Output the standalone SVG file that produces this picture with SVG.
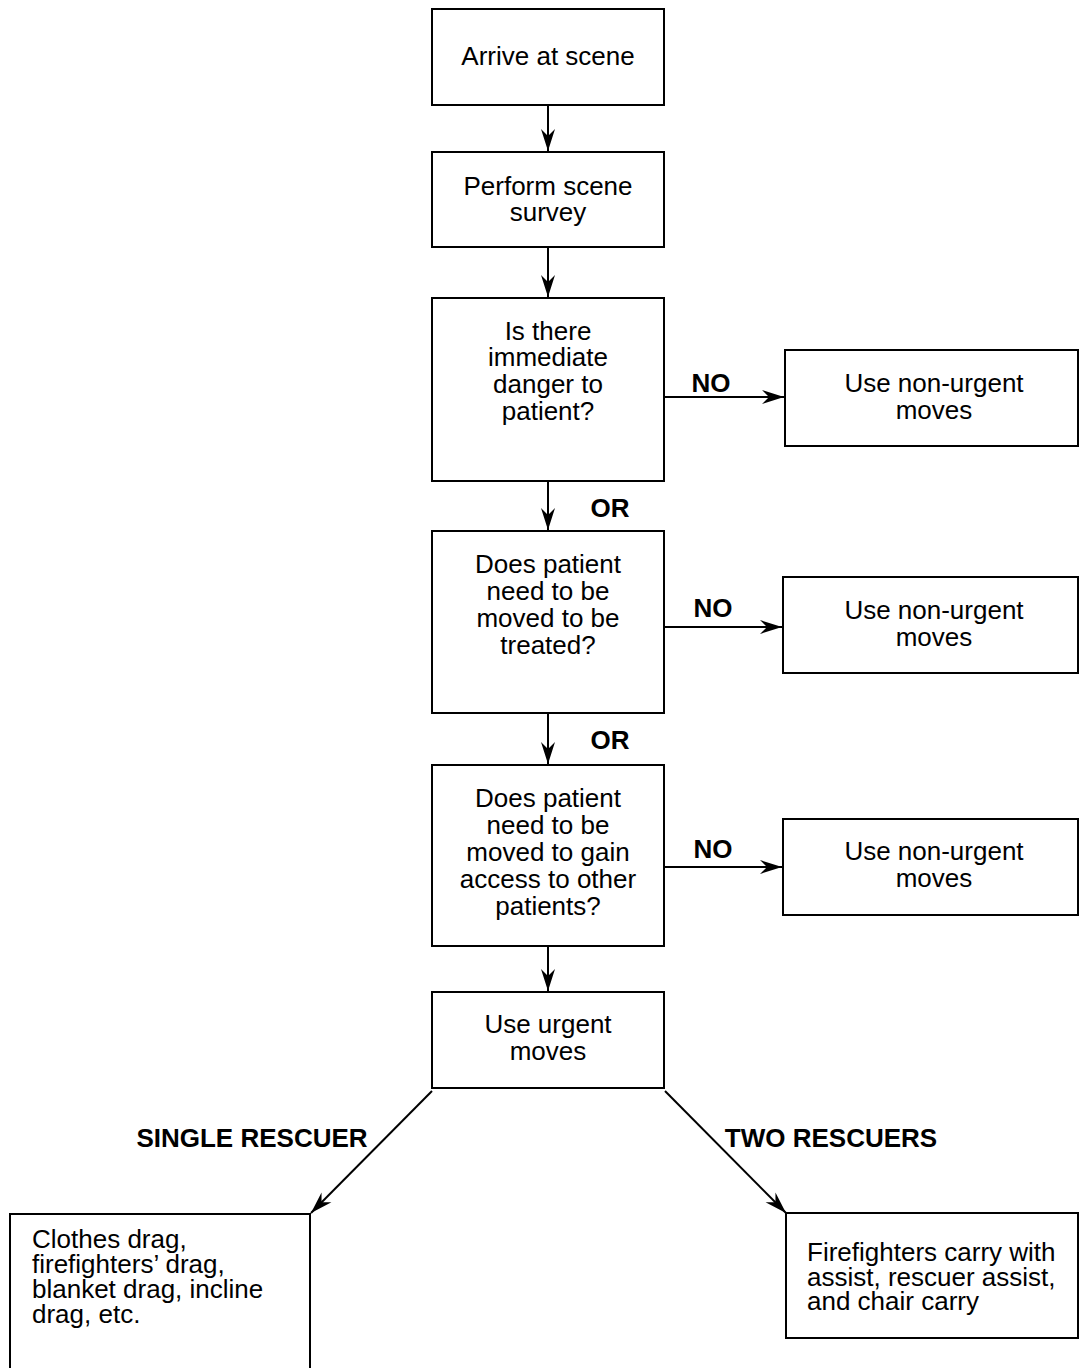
<svg xmlns="http://www.w3.org/2000/svg" width="1079" height="1368" viewBox="0 0 1079 1368">
<style>
.box{fill:#fff;stroke:#000;stroke-width:2}
.t{font-family:"Liberation Sans",Arial,sans-serif;font-size:26px;fill:#000}
.c{text-anchor:middle}
.b{font-weight:bold}
.ln{stroke:#000;stroke-width:2;fill:none}
</style>
<defs>
<marker id="ah" markerUnits="userSpaceOnUse" markerWidth="30" markerHeight="20" viewBox="-24 -10 26 20" refX="0" refY="0" orient="auto">
<path d="M0,0 L-22,-7 L-15,0 L-22,7 Z" fill="#000"/>
</marker>
</defs>
<rect width="1079" height="1368" fill="#fff"/>
<g id="connectors">
<line class="ln" x1="548" y1="105" x2="548" y2="151" marker-end="url(#ah)"/>
<line class="ln" x1="548" y1="247" x2="548" y2="297" marker-end="url(#ah)"/>
<line class="ln" x1="548" y1="481" x2="548" y2="530" marker-end="url(#ah)"/>
<line class="ln" x1="548" y1="713" x2="548" y2="764" marker-end="url(#ah)"/>
<line class="ln" x1="548" y1="946" x2="548" y2="991" marker-end="url(#ah)"/>
<line class="ln" x1="664" y1="397" x2="784" y2="397" marker-end="url(#ah)"/>
<line class="ln" x1="664" y1="627" x2="782" y2="627" marker-end="url(#ah)"/>
<line class="ln" x1="664" y1="867" x2="782" y2="867" marker-end="url(#ah)"/>
<line class="ln" x1="432" y1="1091" x2="311" y2="1213" marker-end="url(#ah)"/>
<line class="ln" x1="665" y1="1091" x2="786" y2="1213" marker-end="url(#ah)"/>
<text class="t b" x="711" y="392" text-anchor="middle">NO</text>
<text class="t b" x="713" y="617" text-anchor="middle">NO</text>
<text class="t b" x="713" y="858" text-anchor="middle">NO</text>
<text class="t b" x="610" y="517" text-anchor="middle">OR</text>
<text class="t b" x="610" y="749" text-anchor="middle">OR</text>
<text class="t b" x="252" y="1147" text-anchor="middle">SINGLE RESCUER</text>
<text class="t b" x="831" y="1147" text-anchor="middle">TWO RESCUERS</text>
</g>
<g id="arrive">
<rect class="box" x="432" y="9" width="232" height="96"/>
<text class="t c" x="548" y="65">Arrive at scene</text>
</g>
<g id="survey">
<rect class="box" x="432" y="152" width="232" height="95"/>
<text class="t c" x="548" y="195">Perform scene</text>
<text class="t c" x="548" y="221">survey</text>
</g>
<g id="danger">
<rect class="box" x="432" y="298" width="232" height="183"/>
<text class="t c" x="548" y="340">Is there</text>
<text class="t c" x="548" y="366">immediate</text>
<text class="t c" x="548" y="393">danger to</text>
<text class="t c" x="548" y="420">patient?</text>
</g>
<g id="nonurgent1">
<rect class="box" x="785" y="350" width="293" height="96"/>
<text class="t c" x="934" y="392">Use non-urgent</text>
<text class="t c" x="934" y="419">moves</text>
</g>
<g id="treated">
<rect class="box" x="432" y="531" width="232" height="182"/>
<text class="t c" x="548" y="573">Does patient</text>
<text class="t c" x="548" y="600">need to be</text>
<text class="t c" x="548" y="627">moved to be</text>
<text class="t c" x="548" y="654">treated?</text>
</g>
<g id="nonurgent2">
<rect class="box" x="783" y="577" width="295" height="96"/>
<text class="t c" x="934" y="619">Use non-urgent</text>
<text class="t c" x="934" y="646">moves</text>
</g>
<g id="access">
<rect class="box" x="432" y="765" width="232" height="181"/>
<text class="t c" x="548" y="807">Does patient</text>
<text class="t c" x="548" y="834">need to be</text>
<text class="t c" x="548" y="861">moved to gain</text>
<text class="t c" x="548" y="888">access to other</text>
<text class="t c" x="548" y="915">patients?</text>
</g>
<g id="nonurgent3">
<rect class="box" x="783" y="819" width="295" height="96"/>
<text class="t c" x="934" y="860">Use non-urgent</text>
<text class="t c" x="934" y="887">moves</text>
</g>
<g id="urgent">
<rect class="box" x="432" y="992" width="232" height="96"/>
<text class="t c" x="548" y="1033">Use urgent</text>
<text class="t c" x="548" y="1060">moves</text>
</g>
<g id="single">
<rect class="box" x="10" y="1214" width="300" height="170"/>
<text class="t" x="32" y="1248">Clothes drag,</text>
<text class="t" x="32" y="1273">firefighters’ drag,</text>
<text class="t" x="32" y="1298">blanket drag, incline</text>
<text class="t" x="32" y="1323">drag, etc.</text>
</g>
<g id="two">
<rect class="box" x="786" y="1213" width="292" height="125"/>
<text class="t" x="807" y="1261">Firefighters carry with</text>
<text class="t" x="807" y="1286">assist, rescuer assist,</text>
<text class="t" x="807" y="1310">and chair carry</text>
</g>
</svg>
